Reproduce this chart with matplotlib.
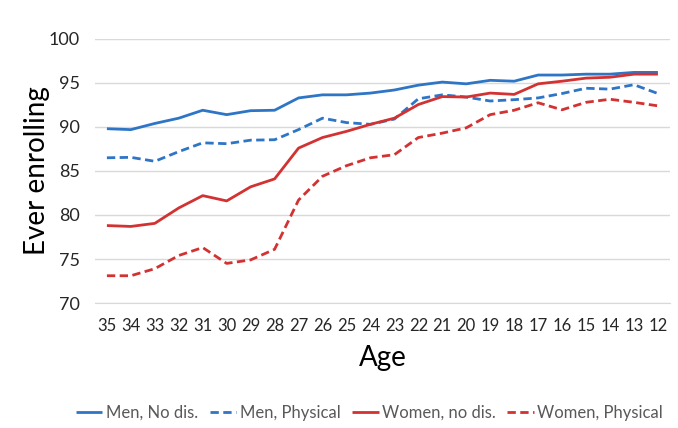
import matplotlib
matplotlib.use('Agg')
import matplotlib.pyplot as plt
import numpy as np

plt.rcParams['font.family'] = ['Lato', 'DejaVu Sans']

ages = [35, 34, 33, 32, 31, 30, 29, 28, 27, 26, 25, 24,
        23, 22, 21, 20, 19, 18, 17, 16, 15, 14, 13, 12]

men_nodis = [89.8, 89.7, 90.4, 91.0, 91.9, 91.4, 91.85, 91.9, 93.3, 93.65, 93.65, 93.85,
             94.2, 94.75, 95.1, 94.9, 95.3, 95.2, 95.9, 95.9, 96.0, 96.0, 96.2, 96.2]
men_phys = [86.5, 86.55, 86.1, 87.2, 88.2, 88.1, 88.5, 88.55, 89.7, 91.0, 90.5, 90.3,
            90.9, 93.2, 93.65, 93.4, 92.95, 93.1, 93.3, 93.8, 94.4, 94.3, 94.8, 93.8]
women_nodis = [78.8, 78.7, 79.05, 80.8, 82.2, 81.6, 83.2, 84.1, 87.6, 88.8, 89.5, 90.3,
               91.0, 92.55, 93.45, 93.4, 93.85, 93.7, 94.9, 95.2, 95.55, 95.65, 96.0, 96.0]
women_phys = [73.1, 73.1, 73.9, 75.4, 76.3, 74.5, 74.9, 76.1, 81.7, 84.4, 85.6, 86.5,
              86.85, 88.8, 89.3, 89.9, 91.4, 91.9, 92.75, 91.95, 92.8, 93.15, 92.8, 92.4]

series = [
    ('Men, No dis.', men_nodis, '#2E75C6', '-'),
    ('Men, Physical', men_phys, '#2E75C6', (0, (3, 1.6))),
    ('Women, no dis.', women_nodis, '#D23232', '-'),
    ('Women, Physical', women_phys, '#D23232', (0, (3, 1.6))),
]

fig = plt.figure(figsize=(6.78, 4.28), dpi=100)
ax = fig.add_axes([0.140, 0.292, 0.848, 0.617])

x = np.arange(len(ages))
for label, vals, color, ls in series:
    ax.plot(x, vals, color=color, linestyle=ls, linewidth=2.0, label=label,
            solid_capstyle='butt', dash_capstyle='butt')

ax.set_xlim(-0.5, len(ages) - 0.5)
ax.set_ylim(70, 100)
ax.set_yticks(range(70, 101, 5))
ax.set_xticks(x)
ax.set_xticklabels([str(a) for a in ages])
ax.grid(axis='y', color='#d9d9d9', linewidth=1.0)
ax.set_axisbelow(True)
for s in ['top', 'right', 'left']:
    ax.spines[s].set_visible(False)
ax.spines['bottom'].set_color('#d9d9d9')
ax.tick_params(axis='both', length=0, colors='#262626')
ax.tick_params(axis='y', labelsize=13, pad=11)
ax.tick_params(axis='x', labelsize=12, pad=11)

ax.set_ylabel('Ever enrolling', fontsize=20, color='#000000')
ax.yaxis.set_label_coords(-0.078, 0.5)
ax.set_xlabel('Age', fontsize=20, labelpad=8, color='#000000')

leg = fig.legend(loc='center', bbox_to_anchor=(0.545, 0.035), ncol=4, frameon=False,
                 fontsize=12, handlelength=1.6, handletextpad=0.2, columnspacing=0.7)
for t in leg.get_texts():
    t.set_color('#595959')

fig.savefig('out.png', dpi=100)
